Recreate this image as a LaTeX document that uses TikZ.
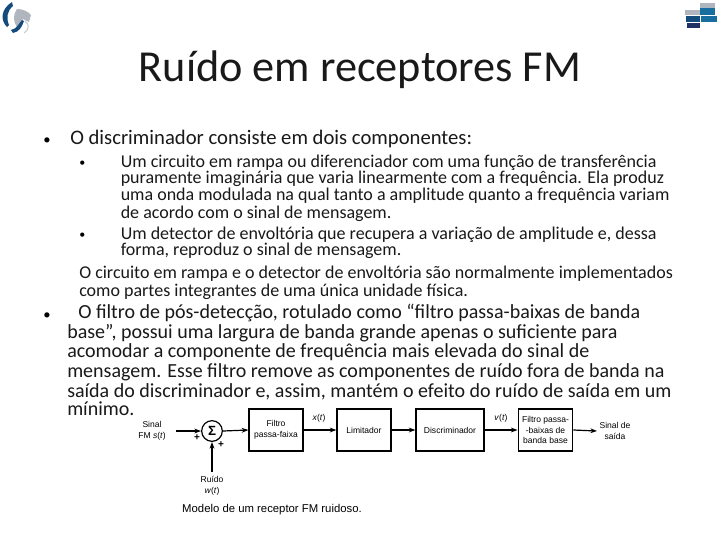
\documentclass[tikz,border=0pt]{standalone}
\usepackage{fontspec}
\setmainfont{Carlito}
\newfontfamily\diagfont{Liberation Sans}
\usetikzlibrary{arrows.meta}
\definecolor{logoA}{RGB}{20,75,125}
\definecolor{logoB}{RGB}{175,182,190}
\definecolor{logoC}{RGB}{25,110,160}
\definecolor{logoD}{RGB}{30,50,100}
\definecolor{txt}{RGB}{25,25,25}
\tikzset{
 x=0.75pt,y=-0.75pt,
 lineb/.style={anchor=base west,inner sep=0pt,font=\fontsize{15}{17}\selectfont,text=txt},
 linetop/.style={anchor=base west,inner sep=0pt,font=\fontsize{15.5}{17}\selectfont,text=txt},
 sub/.style={anchor=base west,inner sep=0pt,font=\fontsize{13.5}{15}\selectfont,text=txt},
 bulmain/.style={anchor=base west,inner sep=0pt,font=\fontsize{11}{12}\selectfont,text=black},
 bulsub/.style={anchor=base west,inner sep=0pt,font=\fontsize{9}{10}\selectfont,text=black},
 blockbox/.style={draw=black,line width=0.9pt,inner sep=0pt,font=\diagfont\fontsize{6.4}{8}\selectfont,align=center},
 lab/.style={inner sep=0pt,font=\diagfont\fontsize{6.4}{8}\selectfont,align=center},
 conn/.style={draw=black,line width=0.9pt,-{Stealth[length=5pt,width=3.6pt]}},
}
\begin{document}
\begin{tikzpicture}
\useasboundingbox (0,0) rectangle (720,540);
\fill[white] (0,0) rectangle (720,540);
% logos
\fill[logoB] (17,9) .. controls (22,9) and (28,11) .. (31,15) -- (29,22) -- (23,19) -- (17,27) .. controls (13,22) and (13,14) .. (17,9) -- cycle;
\draw[logoB!70,line width=0.8pt] (25,21) .. controls (30,24) and (29,30) .. (24,33);
\fill[logoA] (12,2) .. controls (1,9) and (0,20) .. (7,27) -- (9,25) .. controls (6,18) and (7,11) .. (13,6) -- cycle;
\fill[logoA] (11,30) .. controls (17,29) and (19,23) .. (22,20) -- (24,21) .. controls (22,27) and (19,32) .. (13,33) -- cycle;
\fill[logoB] (700,3) rectangle (715,8);
\fill[logoC] (700,8) rectangle (715,15);
\fill[logoB] (685,10) rectangle (700,15);
\fill[logoA] (686,16) rectangle (700,22);
\fill[logoC] (701,16) rectangle (717,22);
\fill[logoD] (687,23) rectangle (700,28);
% title
\node[anchor=base,inner sep=0pt,font=\fontsize{33.2}{38}\selectfont,text=txt] (title) at (360,81) {Ruído em receptores FM};
% body
\node[bulmain] (b1) at (43,144) {•};
\node[linetop] (l1) at (70,144) {O discriminador consiste em dois componentes:};
\node[bulsub] (b2) at (79,166) {•};
\node[sub] (l2) at (120.5,167) {Um circuito em rampa ou diferenciador com uma função de transferência};
\node[sub] (l3) at (120.5,183) {puramente imaginária que varia linearmente com a frequência. Ela produz};
\node[sub] (l4) at (120.5,200) {uma onda modulada na qual tanto a amplitude quanto a frequência variam};
\node[sub] (l5) at (120.5,218) {de acordo com o sinal de mensagem.};
\node[bulsub] (b3) at (79,238) {•};
\node[sub] (l6) at (120.5,239) {Um detector de envoltória que recupera a variação de amplitude e, dessa};
\node[sub] (l7) at (120.5,255) {forma, reproduz o sinal de mensagem.};
\node[sub] (l8) at (79,278) {O circuito em rampa e o detector de envoltória são normalmente implementados};
\node[sub] (l9) at (79,296) {como partes integrantes de uma única unidade física.};
\node[bulmain] (b4) at (43,319) {•};
\node[lineb] (m1) at (78,318) {O filtro de pós-detecção, rotulado como “filtro passa-baixas de banda};
\node[lineb] (m2) at (67,338) {base”, possui uma largura de banda grande apenas o suficiente para};
\node[lineb] (m3) at (67,357) {acomodar a componente de frequência mais elevada do sinal de};
\node[lineb] (m4) at (67,377) {mensagem. Esse filtro remove as componentes de ruído fora de banda na};
\node[lineb] (m5) at (67,397) {saída do discriminador e, assim, mantém o efeito do ruído de saída em um};
\node[lineb] (m6) at (67,415) {mínimo.};
% diagram
\node[lab] (sin) at (152,431) {Sinal\\FM \textit{s}(\textit{t})};
\node[draw=black,line width=0.9pt,circle,minimum size=15.5pt,inner sep=0pt,font=\diagfont\bfseries\fontsize{10}{10}\selectfont] (sum) at (212,431) {Σ};
\node[blockbox,minimum width=40.5pt,minimum height=31.5pt] (f1) at (276,430) {Filtro\\passa-faixa};
\node[blockbox,minimum width=40.5pt,minimum height=31.5pt] (f2) at (364,430) {Limitador};
\node[blockbox,minimum width=51pt,minimum height=31.5pt] (f3) at (450,430) {Discriminador};
\node[blockbox,minimum width=41pt,minimum height=31.5pt] (f4) at (545.5,430) {Filtro passa-\\-baixas de\\banda base};
\node[lab] (out) at (615,431) {Sinal de\\saída};
\node[lab] (noise) at (212,486) {Ruído\\\textit{w}(\textit{t})};
\coordinate (inS) at (176,431);
\coordinate (outS) at (597,431);
\coordinate (noiseS) at (212,472);
\draw[conn] (inS) -- (sum.west);
\draw[conn] (noiseS) -- (sum.south);
\draw[conn] (sum.east) -- (f1.west);
\draw[conn] (f1.east) -- (f2.west);
\draw[conn] (f2.east) -- (f3.west);
\draw[conn] (f3.east) -- (f4.west);
\draw[conn] (f4.east) -- (outS);
\node[lab,font=\diagfont\bfseries\fontsize{7.5}{8}\selectfont] (pl1) at (197,438) {+};
\node[lab,font=\diagfont\bfseries\fontsize{7.5}{8}\selectfont] (pl2) at (221,445) {+};
\node[lab] (xt) at (319,418) {\textit{x}(\textit{t})};
\node[lab] (vt) at (501,418) {\textit{v}(\textit{t})};
\node[inner sep=0pt,font=\diagfont\fontsize{8.5}{10}\selectfont] (cap) at (272,510) {Modelo de um receptor FM ruidoso.};
\end{tikzpicture}
\end{document}
